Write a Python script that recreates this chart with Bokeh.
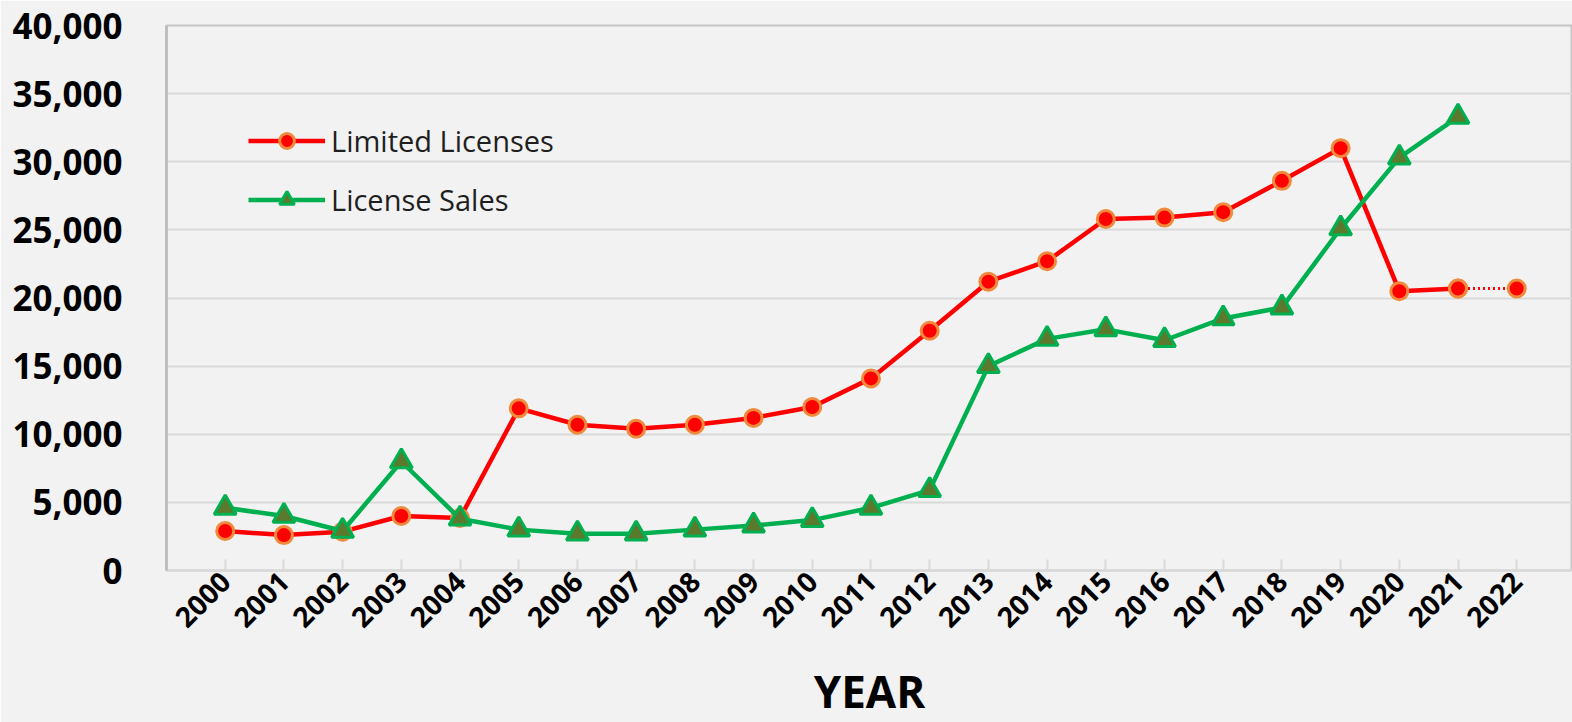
import math
from bokeh.plotting import figure
from bokeh.models import (Range1d, FixedTicker, NumeralTickFormatter, Legend, LegendItem,
                          ColumnDataSource)
from bokeh.embed import file_html
from bokeh.resources import INLINE

years = list(range(2000, 2023))
year_labels = [str(y) for y in years]

limited_years = list(range(2000, 2022))
limited = [2900, 2600, 2850, 4000, 3850, 11900, 10700, 10400, 10700, 11200, 12000,
           14100, 17600, 21200, 22700, 25800, 25900, 26300, 28600, 31000, 20500, 20700]
limited_proj_years = [2021, 2022]
limited_proj = [20700, 20700]

sales_years = list(range(2000, 2022))
sales = [4600, 4000, 2900, 8000, 3800, 3000, 2700, 2700, 3000, 3300, 3700,
         4600, 5900, 15000, 17000, 17700, 16900, 18500, 19300, 25100, 30300, 33300]

y_ticks = [0, 5000, 10000, 15000, 20000, 25000, 30000, 35000, 40000]

FONT = "Open Sans"
BG = "#f2f2f2"

p = figure(frame_width=1406, frame_height=545, output_backend="svg", toolbar_location=None,
           x_range=Range1d(1999, 2022.95), y_range=Range1d(0, 40000),
           background_fill_color=BG, border_fill_color=BG,
           min_border_left=166, min_border_right=0, min_border_top=25, min_border_bottom=140)

p.outline_line_color = "#c6c6c6"
p.outline_line_width = 2

# grids
p.xgrid.grid_line_color = None
p.ygrid.grid_line_color = "#d9d9d9"
p.ygrid.grid_line_width = 2
p.ygrid.ticker = FixedTicker(ticks=y_ticks)

# y axis
p.yaxis.ticker = FixedTicker(ticks=y_ticks)
p.yaxis.formatter = NumeralTickFormatter(format="0,0")
p.yaxis.major_tick_line_color = None
p.yaxis.minor_tick_line_color = None
p.yaxis.axis_line_color = "#bfbfbf"
p.yaxis.axis_line_width = 3
p.yaxis.major_label_text_font = FONT
p.yaxis.major_label_text_font_style = "bold"
p.yaxis.major_label_text_font_size = "35px"
p.yaxis.major_label_text_color = "#000000"
p.yaxis.major_label_standoff = 38

# x axis
p.xaxis.ticker = FixedTicker(ticks=years)
p.xaxis.major_label_overrides = {y: l for y, l in zip(years, year_labels)}
p.xaxis.major_label_orientation = math.pi / 4
p.xaxis.major_tick_in = 11
p.xaxis.major_tick_out = 0
p.xaxis.major_tick_line_color = "#d9d9d9"
p.xaxis.major_tick_line_width = 2
p.xaxis.minor_tick_line_color = None
p.xaxis.axis_line_color = "#d9d9d9"
p.xaxis.axis_line_width = 2
p.xaxis.major_label_text_font = FONT
p.xaxis.major_label_text_font_style = "bold"
p.xaxis.major_label_text_font_size = "28px"
p.xaxis.major_label_text_color = "#000000"
p.xaxis.major_label_standoff = 6
p.xaxis.axis_label = "YEAR"
p.xaxis.axis_label_text_font = FONT
p.xaxis.axis_label_text_font_style = "bold"
p.xaxis.axis_label_text_font_size = "44px"
p.xaxis.axis_label_text_color = "#000000"
p.xaxis.axis_label_standoff = 21

RED = "#ff0000"
ORANGE = "#f08a3c"
GREEN = "#00b050"
OLIVE = "#5b7a2e"

src_l = ColumnDataSource(dict(x=limited_years, y=limited))
src_lp = ColumnDataSource(dict(x=limited_proj_years, y=limited_proj))
src_s = ColumnDataSource(dict(x=sales_years, y=sales))

p.line("x", "y", source=src_lp, line_color=RED, line_width=3, line_dash="2 3")
l_line = p.line("x", "y", source=src_l, line_color=RED, line_width=4.5)
l_pts = p.scatter("x", "y", source=src_l, marker="circle", size=17,
                  fill_color=RED, line_color=ORANGE, line_width=3)
p.scatter("x", "y", source=src_lp, marker="circle", size=17,
          fill_color=RED, line_color=ORANGE, line_width=3)
s_line = p.line("x", "y", source=src_s, line_color=GREEN, line_width=4.5)
s_pts = p.scatter("x", "y", source=src_s, marker="triangle", size=22,
                  fill_color=OLIVE, line_color=GREEN, line_width=3)

legend = Legend(items=[LegendItem(label="Limited Licenses", renderers=[l_line, l_pts]),
                       LegendItem(label="License Sales", renderers=[s_line, s_pts])],
                location=(82, 351), orientation="vertical")
legend.background_fill_alpha = 0
legend.border_line_color = None
legend.padding = 0
legend.margin = 0
legend.spacing = 20
legend.glyph_width = 77
legend.glyph_height = 37
legend.label_height = 37
legend.label_standoff = 6
legend.label_text_font = FONT
legend.label_text_font_size = "29px"
legend.label_text_color = "#1f1f1f"
p.add_layout(legend)

open("out.html", "w").write(file_html(p, INLINE))
